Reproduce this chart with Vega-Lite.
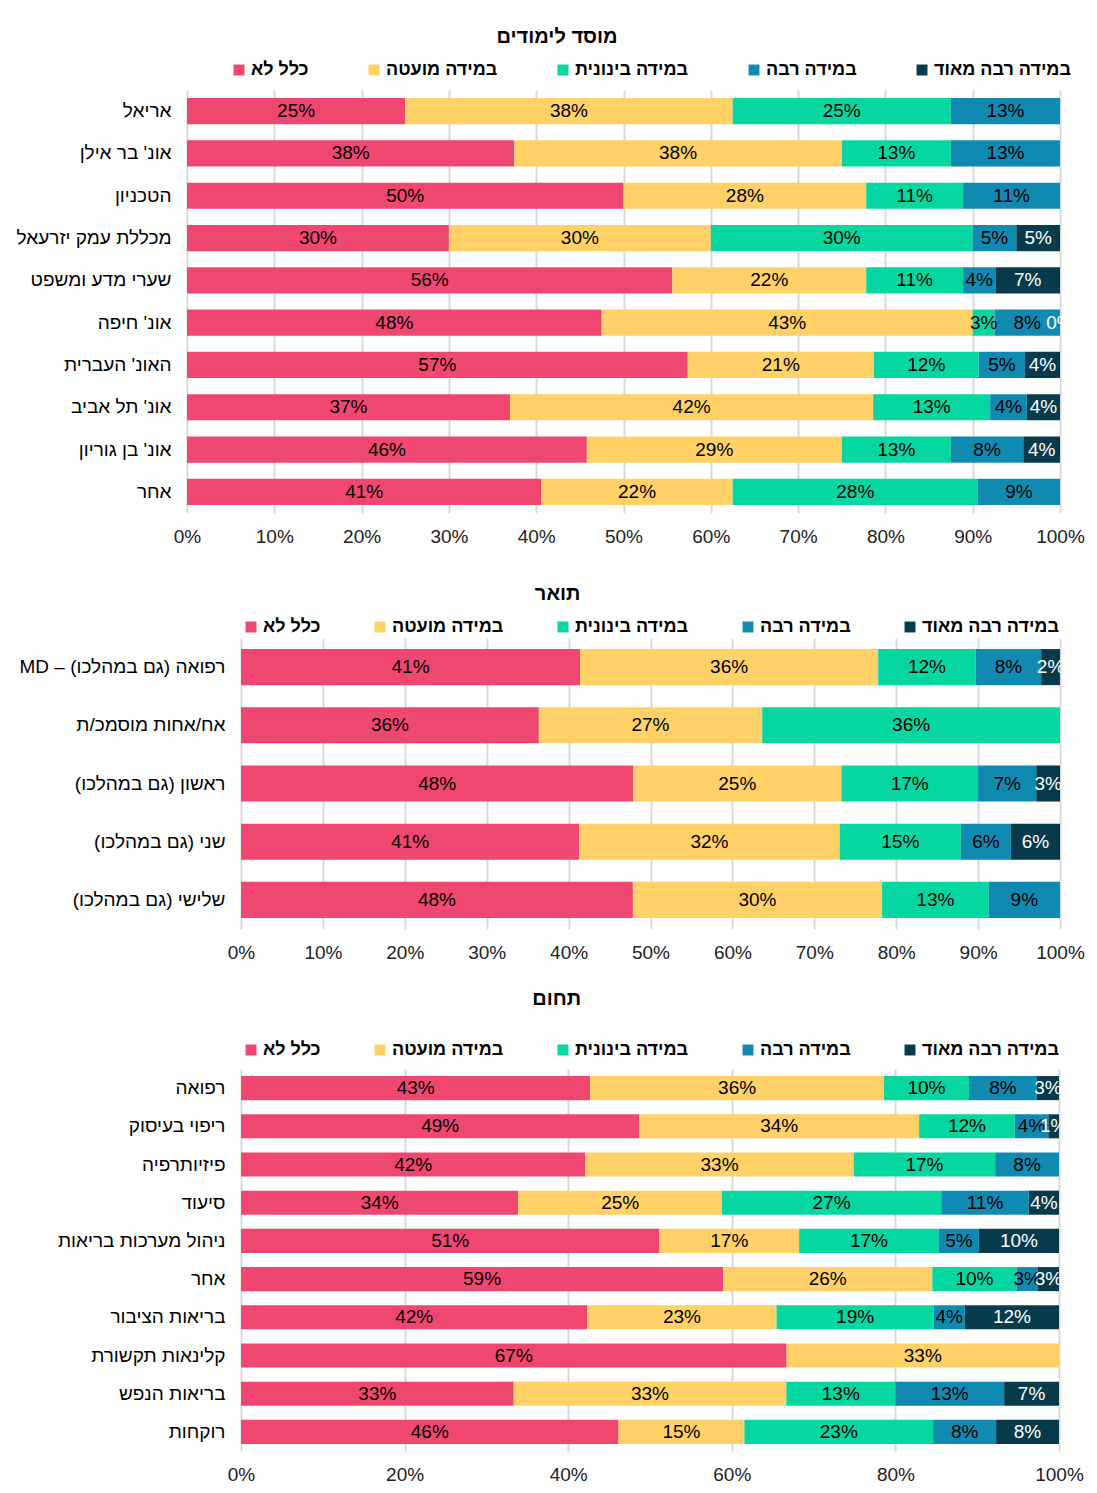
{
  "$schema": "https://vega.github.io/schema/vega-lite/v6.json",
  "background": "white",
  "padding": {"top": 27, "left": 15, "right": 8, "bottom": 8},
  "columns": 1,
  "spacing": 38,
  "config": {
    "font": "Liberation Sans",
    "view": {"stroke": null},
    "legend": {"layout": {"top": {"anchor": "middle"}}},
    "axisX": {"title": null, "grid": true, "gridColor": "#d9d9d9", "gridWidth": 2, "ticks": false, "domain": false, "labelFontSize": 19, "labelColor": "#222222", "labelPadding": 14, "labelFlush": false, "format": ".0%", "zindex": 0},
    "axisY": {"title": null, "ticks": false, "domain": false, "grid": false, "labelFontSize": 19, "labelColor": "black", "labelPadding": 16, "labelLimit": 400}
  },
  "resolve": {"scale": {"color": "independent"}, "legend": {"color": "independent"}},
  "datasets": {
    "inst": [
      {"row": "אריאל", "level": "כלל לא", "k": 1, "value": 25},
      {"row": "אריאל", "level": "במידה מועטה", "k": 2, "value": 37.5},
      {"row": "אריאל", "level": "במידה בינונית", "k": 3, "value": 25},
      {"row": "אריאל", "level": "במידה רבה", "k": 4, "value": 12.5},
      {"row": "אונ' בר אילן", "level": "כלל לא", "k": 1, "value": 37.5},
      {"row": "אונ' בר אילן", "level": "במידה מועטה", "k": 2, "value": 37.5},
      {"row": "אונ' בר אילן", "level": "במידה בינונית", "k": 3, "value": 12.5},
      {"row": "אונ' בר אילן", "level": "במידה רבה", "k": 4, "value": 12.5},
      {"row": "הטכניון", "level": "כלל לא", "k": 1, "value": 50},
      {"row": "הטכניון", "level": "במידה מועטה", "k": 2, "value": 27.8},
      {"row": "הטכניון", "level": "במידה בינונית", "k": 3, "value": 11.1},
      {"row": "הטכניון", "level": "במידה רבה", "k": 4, "value": 11.1},
      {"row": "מכללת עמק יזרעאל", "level": "כלל לא", "k": 1, "value": 30},
      {"row": "מכללת עמק יזרעאל", "level": "במידה מועטה", "k": 2, "value": 30},
      {"row": "מכללת עמק יזרעאל", "level": "במידה בינונית", "k": 3, "value": 30},
      {"row": "מכללת עמק יזרעאל", "level": "במידה רבה", "k": 4, "value": 5},
      {"row": "מכללת עמק יזרעאל", "level": "במידה רבה מאוד", "k": 5, "value": 5},
      {"row": "שערי מדע ומשפט", "level": "כלל לא", "k": 1, "value": 55.6},
      {"row": "שערי מדע ומשפט", "level": "במידה מועטה", "k": 2, "value": 22.2},
      {"row": "שערי מדע ומשפט", "level": "במידה בינונית", "k": 3, "value": 11.1},
      {"row": "שערי מדע ומשפט", "level": "במידה רבה", "k": 4, "value": 3.7},
      {"row": "שערי מדע ומשפט", "level": "במידה רבה מאוד", "k": 5, "value": 7.4},
      {"row": "אונ' חיפה", "level": "כלל לא", "k": 1, "value": 47.5},
      {"row": "אונ' חיפה", "level": "במידה מועטה", "k": 2, "value": 42.5},
      {"row": "אונ' חיפה", "level": "במידה בינונית", "k": 3, "value": 2.5},
      {"row": "אונ' חיפה", "level": "במידה רבה", "k": 4, "value": 7.5},
      {"row": "אונ' חיפה", "level": "במידה רבה מאוד", "k": 5, "value": 0},
      {"row": "האונ' העברית", "level": "כלל לא", "k": 1, "value": 57.3},
      {"row": "האונ' העברית", "level": "במידה מועטה", "k": 2, "value": 21.3},
      {"row": "האונ' העברית", "level": "במידה בינונית", "k": 3, "value": 12.0},
      {"row": "האונ' העברית", "level": "במידה רבה", "k": 4, "value": 5.3},
      {"row": "האונ' העברית", "level": "במידה רבה מאוד", "k": 5, "value": 4.0},
      {"row": "אונ' תל אביב", "level": "כלל לא", "k": 1, "value": 37.0},
      {"row": "אונ' תל אביב", "level": "במידה מועטה", "k": 2, "value": 41.6},
      {"row": "אונ' תל אביב", "level": "במידה בינונית", "k": 3, "value": 13.4},
      {"row": "אונ' תל אביב", "level": "במידה רבה", "k": 4, "value": 4.2},
      {"row": "אונ' תל אביב", "level": "במידה רבה מאוד", "k": 5, "value": 3.8},
      {"row": "אונ' בן גוריון", "level": "כלל לא", "k": 1, "value": 45.8},
      {"row": "אונ' בן גוריון", "level": "במידה מועטה", "k": 2, "value": 29.2},
      {"row": "אונ' בן גוריון", "level": "במידה בינונית", "k": 3, "value": 12.5},
      {"row": "אונ' בן גוריון", "level": "במידה רבה", "k": 4, "value": 8.3},
      {"row": "אונ' בן גוריון", "level": "במידה רבה מאוד", "k": 5, "value": 4.2},
      {"row": "אחר", "level": "כלל לא", "k": 1, "value": 40.6},
      {"row": "אחר", "level": "במידה מועטה", "k": 2, "value": 21.9},
      {"row": "אחר", "level": "במידה בינונית", "k": 3, "value": 28.1},
      {"row": "אחר", "level": "במידה רבה", "k": 4, "value": 9.4}
    ],
    "degree": [
      {"row": "MD – רפואה (גם במהלכו)\u200f", "level": "כלל לא", "k": 1, "value": 41.4},
      {"row": "MD – רפואה (גם במהלכו)\u200f", "level": "במידה מועטה", "k": 2, "value": 36.4},
      {"row": "MD – רפואה (גם במהלכו)\u200f", "level": "במידה בינונית", "k": 3, "value": 11.9},
      {"row": "MD – רפואה (גם במהלכו)\u200f", "level": "במידה רבה", "k": 4, "value": 8.0},
      {"row": "MD – רפואה (גם במהלכו)\u200f", "level": "במידה רבה מאוד", "k": 5, "value": 2.3},
      {"row": "אח/אחות מוסמכ/ת", "level": "כלל לא", "k": 1, "value": 36.4},
      {"row": "אח/אחות מוסמכ/ת", "level": "במידה מועטה", "k": 2, "value": 27.3},
      {"row": "אח/אחות מוסמכ/ת", "level": "במידה בינונית", "k": 3, "value": 36.4},
      {"row": "ראשון (גם במהלכו)\u200f", "level": "כלל לא", "k": 1, "value": 47.9},
      {"row": "ראשון (גם במהלכו)\u200f", "level": "במידה מועטה", "k": 2, "value": 25.4},
      {"row": "ראשון (גם במהלכו)\u200f", "level": "במידה בינונית", "k": 3, "value": 16.7},
      {"row": "ראשון (גם במהלכו)\u200f", "level": "במידה רבה", "k": 4, "value": 7.1},
      {"row": "ראשון (גם במהלכו)\u200f", "level": "במידה רבה מאוד", "k": 5, "value": 2.9},
      {"row": "שני (גם במהלכו)\u200f", "level": "כלל לא", "k": 1, "value": 41.3},
      {"row": "שני (גם במהלכו)\u200f", "level": "במידה מועטה", "k": 2, "value": 31.8},
      {"row": "שני (גם במהלכו)\u200f", "level": "במידה בינונית", "k": 3, "value": 14.8},
      {"row": "שני (גם במהלכו)\u200f", "level": "במידה רבה", "k": 4, "value": 6.1},
      {"row": "שני (גם במהלכו)\u200f", "level": "במידה רבה מאוד", "k": 5, "value": 6.0},
      {"row": "שלישי (גם במהלכו)\u200f", "level": "כלל לא", "k": 1, "value": 47.8},
      {"row": "שלישי (גם במהלכו)\u200f", "level": "במידה מועטה", "k": 2, "value": 30.4},
      {"row": "שלישי (גם במהלכו)\u200f", "level": "במידה בינונית", "k": 3, "value": 13.0},
      {"row": "שלישי (גם במהלכו)\u200f", "level": "במידה רבה", "k": 4, "value": 8.7}
    ],
    "field": [
      {"row": "רפואה", "level": "כלל לא", "k": 1, "value": 42.7},
      {"row": "רפואה", "level": "במידה מועטה", "k": 2, "value": 35.9},
      {"row": "רפואה", "level": "במידה בינונית", "k": 3, "value": 10.4},
      {"row": "רפואה", "level": "במידה רבה", "k": 4, "value": 8.3},
      {"row": "רפואה", "level": "במידה רבה מאוד", "k": 5, "value": 2.7},
      {"row": "ריפוי בעיסוק", "level": "כלל לא", "k": 1, "value": 48.7},
      {"row": "ריפוי בעיסוק", "level": "במידה מועטה", "k": 2, "value": 34.2},
      {"row": "ריפוי בעיסוק", "level": "במידה בינונית", "k": 3, "value": 11.7},
      {"row": "ריפוי בעיסוק", "level": "במידה רבה", "k": 4, "value": 4.1},
      {"row": "ריפוי בעיסוק", "level": "במידה רבה מאוד", "k": 5, "value": 1.3},
      {"row": "פיזיותרפיה", "level": "כלל לא", "k": 1, "value": 42.1},
      {"row": "פיזיותרפיה", "level": "במידה מועטה", "k": 2, "value": 32.8},
      {"row": "פיזיותרפיה", "level": "במידה בינונית", "k": 3, "value": 17.3},
      {"row": "פיזיותרפיה", "level": "במידה רבה", "k": 4, "value": 7.8},
      {"row": "סיעוד", "level": "כלל לא", "k": 1, "value": 33.9},
      {"row": "סיעוד", "level": "במידה מועטה", "k": 2, "value": 24.9},
      {"row": "סיעוד", "level": "במידה בינונית", "k": 3, "value": 26.8},
      {"row": "סיעוד", "level": "במידה רבה", "k": 4, "value": 10.7},
      {"row": "סיעוד", "level": "במידה רבה מאוד", "k": 5, "value": 3.7},
      {"row": "ניהול מערכות בריאות", "level": "כלל לא", "k": 1, "value": 51.2},
      {"row": "ניהול מערכות בריאות", "level": "במידה מועטה", "k": 2, "value": 17.1},
      {"row": "ניהול מערכות בריאות", "level": "במידה בינונית", "k": 3, "value": 17.1},
      {"row": "ניהול מערכות בריאות", "level": "במידה רבה", "k": 4, "value": 4.9},
      {"row": "ניהול מערכות בריאות", "level": "במידה רבה מאוד", "k": 5, "value": 9.8},
      {"row": "אחר", "level": "כלל לא", "k": 1, "value": 59.0},
      {"row": "אחר", "level": "במידה מועטה", "k": 2, "value": 25.6},
      {"row": "אחר", "level": "במידה בינונית", "k": 3, "value": 10.3},
      {"row": "אחר", "level": "במידה רבה", "k": 4, "value": 2.6},
      {"row": "אחר", "level": "במידה רבה מאוד", "k": 5, "value": 2.6},
      {"row": "בריאות הציבור", "level": "כלל לא", "k": 1, "value": 42.3},
      {"row": "בריאות הציבור", "level": "במידה מועטה", "k": 2, "value": 23.1},
      {"row": "בריאות הציבור", "level": "במידה בינונית", "k": 3, "value": 19.2},
      {"row": "בריאות הציבור", "level": "במידה רבה", "k": 4, "value": 3.8},
      {"row": "בריאות הציבור", "level": "במידה רבה מאוד", "k": 5, "value": 11.5},
      {"row": "קלינאות תקשורת", "level": "כלל לא", "k": 1, "value": 66.7},
      {"row": "קלינאות תקשורת", "level": "במידה מועטה", "k": 2, "value": 33.3},
      {"row": "בריאות הנפש", "level": "כלל לא", "k": 1, "value": 33.3},
      {"row": "בריאות הנפש", "level": "במידה מועטה", "k": 2, "value": 33.3},
      {"row": "בריאות הנפש", "level": "במידה בינונית", "k": 3, "value": 13.3},
      {"row": "בריאות הנפש", "level": "במידה רבה", "k": 4, "value": 13.3},
      {"row": "בריאות הנפש", "level": "במידה רבה מאוד", "k": 5, "value": 6.7},
      {"row": "רוקחות", "level": "כלל לא", "k": 1, "value": 46.2},
      {"row": "רוקחות", "level": "במידה מועטה", "k": 2, "value": 15.4},
      {"row": "רוקחות", "level": "במידה בינונית", "k": 3, "value": 23.1},
      {"row": "רוקחות", "level": "במידה רבה", "k": 4, "value": 7.7},
      {"row": "רוקחות", "level": "במידה רבה מאוד", "k": 5, "value": 7.7}
    ]
  },
  "concat": [
    {
      "title": {"text": "מוסד לימודים", "fontSize": 20, "fontWeight": "bold", "color": "black", "anchor": "middle", "frame": "bounds", "offset": 14, "dx": -8},
      "width": 819,
      "height": 423,
      "data": {"name": "inst"},
      "transform": [
        {"stack": "value", "groupby": ["row"], "sort": [{"field": "k", "order": "ascending"}], "offset": "normalize", "as": ["v0", "v1"]},
        {"calculate": "(datum.v0 + datum.v1) / 2", "as": "mid"},
        {"calculate": "format(datum.value, '.0f') + '%'", "as": "label"}
      ],
      "encoding": {
        "y": {"field": "row", "type": "nominal", "sort": ["אריאל", "אונ' בר אילן", "הטכניון", "מכללת עמק יזרעאל", "שערי מדע ומשפט", "אונ' חיפה", "האונ' העברית", "אונ' תל אביב", "אונ' בן גוריון", "אחר"], "scale": {"paddingInner": 0.38, "paddingOuter": 0.19}, "axis": {"offset": 54}}
      },
      "layer": [
        {
          "mark": {"type": "bar"},
          "encoding": {
            "x": {"field": "v0", "type": "quantitative", "scale": {"domain": [0, 1], "nice": false, "range": [-54, 819]}, "axis": {"values": [0, 0.1, 0.2, 0.3, 0.4, 0.5, 0.6, 0.7, 0.8, 0.9, 1]}},
            "x2": {"field": "v1"},
            "color": {"field": "level", "type": "nominal", "scale": {"domain": ["כלל לא", "במידה מועטה", "במידה בינונית", "במידה רבה", "במידה רבה מאוד"], "range": ["#EF476F", "#FFD166", "#06D6A0", "#118AB2", "#073B4C"]}, "legend": {"orient": "top", "direction": "horizontal", "title": null, "symbolType": "square", "symbolSize": 120, "symbolStrokeWidth": 0, "labelFontSize": 18, "labelFontWeight": "bold", "labelColor": "black", "columnPadding": 56, "labelOffset": 3, "offset": 11, "padding": 0}}
          }
        },
        {
          "mark": {"type": "text", "fontSize": 19, "align": "center", "baseline": "middle"},
          "encoding": {
            "x": {"field": "mid", "type": "quantitative"},
            "text": {"field": "label"},
            "color": {"condition": {"test": "datum.level === 'במידה רבה מאוד'", "value": "white"}, "value": "black"}
          }
        }
      ]
    },
    {
      "spacing": 27,
      "resolve": {"scale": {"color": "independent"}, "legend": {"color": "independent"}},
      "vconcat": [
        {
          "title": {"text": "תואר", "fontSize": 20, "fontWeight": "bold", "color": "black", "anchor": "middle", "frame": "bounds", "offset": 14, "dx": 8},
          "width": 819,
          "height": 291,
          "data": {"name": "degree"},
          "transform": [
            {"stack": "value", "groupby": ["row"], "sort": [{"field": "k", "order": "ascending"}], "offset": "normalize", "as": ["v0", "v1"]},
            {"calculate": "(datum.v0 + datum.v1) / 2", "as": "mid"},
            {"calculate": "format(datum.value, '.0f') + '%'", "as": "label"}
          ],
          "encoding": {
            "y": {"field": "row", "type": "nominal", "sort": ["MD – רפואה (גם במהלכו)\u200f", "אח/אחות מוסמכ/ת", "ראשון (גם במהלכו)\u200f", "שני (גם במהלכו)\u200f", "שלישי (גם במהלכו)\u200f"], "scale": {"paddingInner": 0.38, "paddingOuter": 0.19}, "axis": {"minExtent": 226, "maxExtent": 226}}
          },
          "layer": [
            {
              "mark": {"type": "bar"},
              "encoding": {
                "x": {"field": "v0", "type": "quantitative", "scale": {"domain": [0, 1], "nice": false}, "axis": {"values": [0, 0.1, 0.2, 0.3, 0.4, 0.5, 0.6, 0.7, 0.8, 0.9, 1]}},
                "x2": {"field": "v1"},
                "color": {"field": "level", "type": "nominal", "scale": {"domain": ["כלל לא", "במידה מועטה", "במידה בינונית", "במידה רבה", "במידה רבה מאוד"], "range": ["#EF476F", "#FFD166", "#06D6A0", "#118AB2", "#073B4C"]}, "legend": {"orient": "top", "direction": "horizontal", "title": null, "symbolType": "square", "symbolSize": 120, "symbolStrokeWidth": 0, "labelFontSize": 18, "labelFontWeight": "bold", "labelColor": "black", "columnPadding": 50, "labelOffset": 3, "offset": 2, "padding": 0}}
              }
            },
            {
              "mark": {"type": "text", "fontSize": 19, "align": "center", "baseline": "middle"},
              "encoding": {
                "x": {"field": "mid", "type": "quantitative"},
                "text": {"field": "label"},
                "color": {"condition": {"test": "datum.level === 'במידה רבה מאוד'", "value": "white"}, "value": "black"}
              }
            }
          ]
        },
        {
          "title": {"text": "תחום", "fontSize": 20, "fontWeight": "bold", "color": "black", "anchor": "middle", "frame": "bounds", "offset": 32, "dx": 7},
          "width": 818,
          "height": 382,
          "data": {"name": "field"},
          "transform": [
            {"stack": "value", "groupby": ["row"], "sort": [{"field": "k", "order": "ascending"}], "offset": "normalize", "as": ["v0", "v1"]},
            {"calculate": "(datum.v0 + datum.v1) / 2", "as": "mid"},
            {"calculate": "format(datum.value, '.0f') + '%'", "as": "label"}
          ],
          "encoding": {
            "y": {"field": "row", "type": "nominal", "sort": ["רפואה", "ריפוי בעיסוק", "פיזיותרפיה", "סיעוד", "ניהול מערכות בריאות", "אחר", "בריאות הציבור", "קלינאות תקשורת", "בריאות הנפש", "רוקחות"], "scale": {"paddingInner": 0.37, "paddingOuter": 0.185}, "axis": {"minExtent": 225, "maxExtent": 225}}
          },
          "layer": [
            {
              "mark": {"type": "bar"},
              "encoding": {
                "x": {"field": "v0", "type": "quantitative", "scale": {"domain": [0, 1], "nice": false}, "axis": {"values": [0, 0.2, 0.4, 0.6, 0.8, 1]}},
                "x2": {"field": "v1"},
                "color": {"field": "level", "type": "nominal", "scale": {"domain": ["כלל לא", "במידה מועטה", "במידה בינונית", "במידה רבה", "במידה רבה מאוד"], "range": ["#EF476F", "#FFD166", "#06D6A0", "#118AB2", "#073B4C"]}, "legend": {"orient": "top", "direction": "horizontal", "title": null, "symbolType": "square", "symbolSize": 120, "symbolStrokeWidth": 0, "labelFontSize": 18, "labelFontWeight": "bold", "labelColor": "black", "columnPadding": 50, "labelOffset": 3, "offset": 10, "padding": 0}}
              }
            },
            {
              "mark": {"type": "text", "fontSize": 19, "align": "center", "baseline": "middle"},
              "encoding": {
                "x": {"field": "mid", "type": "quantitative"},
                "text": {"field": "label"},
                "color": {"condition": {"test": "datum.level === 'במידה רבה מאוד'", "value": "white"}, "value": "black"}
              }
            }
          ]
        }
      ]
    }
  ]
}
